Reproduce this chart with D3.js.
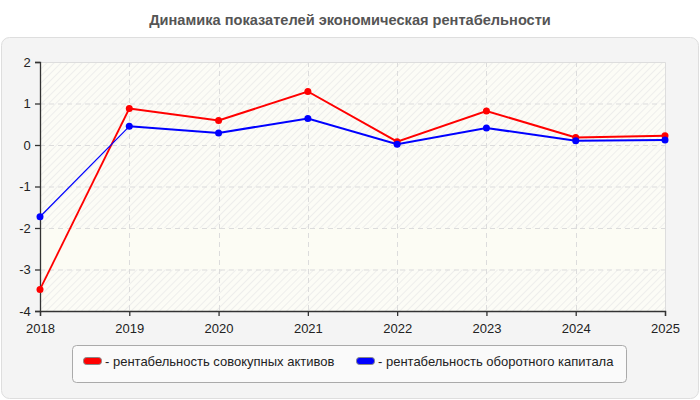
<!DOCTYPE html>
<html>
<head>
<meta charset="utf-8">
<script src="https://cdn.jsdelivr.net/npm/d3@7"></script>
<style>
  body { margin: 0; background: #fff; }
  svg { display: block; font-family: "Liberation Sans", Arial, sans-serif; }
</style>
</head>
<body>
<svg id="chart" width="700" height="400"></svg>
<script>
// data
const years = [2018, 2019, 2020, 2021, 2022, 2023, 2024, 2025];
const assetsReturn = [-3.48, 0.88, 0.59, 1.29, 0.08, 0.82, 0.18, 0.22];
const capitalReturn = [-1.73, 0.45, 0.29, 0.64, 0.02, 0.41, 0.10, 0.12];
const yTicks = [-4, -3, -2, -1, 0, 1, 2];
const seriesNames = ['рентабельность совокупных активов', 'рентабельность оборотного капитала'];
const seriesColors = ['#ff0000', '#0000ff'];
const title = 'Динамика показателей экономическая рентабельности';

const svg = d3.select('#chart');
const margin = { left: 40, right: 35, top: 62, bottom: 89 };
const w = 700 - margin.left - margin.right;
const h = 400 - margin.top - margin.bottom;

// hatch pattern for plot bg
const defs = svg.append('defs');
const pat = defs.append('pattern')
  .attr('id', 'hatch')
  .attr('width', 5).attr('height', 5)
  .attr('patternUnits', 'userSpaceOnUse')
  .attr('patternTransform', 'rotate(45)');
pat.append('rect').attr('width', 5).attr('height', 5).attr('fill', '#fcfcf6');
pat.append('line').attr('x1', 0).attr('y1', 0).attr('x2', 0).attr('y2', 5)
  .attr('stroke', '#e6e6e6').attr('stroke-width', 1.2);

svg.append('text')
  .attr('x', 350).attr('y', 25)
  .attr('text-anchor', 'middle')
  .attr('font-size', 14.6).attr('font-weight', 'bold')
  .attr('fill', '#555')
  .text(title);

// outer panel
svg.append('rect')
  .attr('x', 1.5).attr('y', 37.5).attr('width', 697).attr('height', 361)
  .attr('rx', 8)
  .attr('fill', '#f4f4f4').attr('stroke', '#dedede');

const x = d3.scaleLinear().domain([2018, 2025]).range([0, w]);
const y = d3.scaleLinear().domain([-4, 2]).range([h, 0]);

const g = svg.append('g').attr('transform', `translate(${margin.left},${margin.top})`);

// bands
const bands = d3.pairs(yTicks);
g.selectAll('.band')
  .data(bands)
  .join('rect')
    .attr('x', 0)
    .attr('y', d => y(d[1]))
    .attr('width', w)
    .attr('height', d => y(d[0]) - y(d[1]))
    .attr('fill', d => d[0] === -3 ? '#fcfcf4' : 'url(#hatch)');

// grid
g.selectAll('.hgrid')
  .data(yTicks.slice(1, -1))
  .join('line')
    .attr('x1', 0).attr('x2', w)
    .attr('y1', d => y(d) + 0.5).attr('y2', d => y(d) + 0.5)
    .attr('stroke', '#dcdcdc').attr('stroke-dasharray', '5,4');
g.selectAll('.vgrid')
  .data(years.slice(1, -1))
  .join('line')
    .attr('x1', d => Math.round(x(d)) + 0.5).attr('x2', d => Math.round(x(d)) + 0.5)
    .attr('y1', 0).attr('y2', h)
    .attr('stroke', '#dcdcdc').attr('stroke-dasharray', '5,4');

// top / right border of plot
g.append('path')
  .attr('d', `M0,0.5H${w + 0.5}V${h}`)
  .attr('fill', 'none').attr('stroke', '#dddddd');

// axes
const xAxis = d3.axisBottom(x).tickValues(years).tickFormat(d3.format('d')).tickSizeOuter(0).tickSize(5);
const yAxis = d3.axisLeft(y).tickValues(yTicks).tickSizeOuter(0).tickSize(5);

const gx = g.append('g').attr('transform', `translate(0,${h})`).call(xAxis);
const gy = g.append('g').call(yAxis);
[gx, gy].forEach(a => {
  a.selectAll('.domain, line').attr('stroke', '#333').attr('stroke-width', 1.3);
  a.selectAll('text').attr('font-size', 13).attr('fill', '#222').attr('font-family', '"Liberation Sans", Arial, sans-serif');
});
gx.selectAll('text').attr('dy', '1.05em');
gy.selectAll('text').attr('dx', '-0.1em').text(d => d < 0 ? '-' + Math.abs(d) : d);

// lines
const series = [assetsReturn, capitalReturn];
const line = d3.line().x((d, i) => x(years[i])).y(d => y(d));

series.forEach((vals, s) => {
  // first segment is drawn thinner in the original
  g.append('path')
    .datum(vals.slice(0, 2))
    .attr('d', line)
    .attr('fill', 'none')
    .attr('stroke', seriesColors[s])
    .attr('stroke-width', s === 1 ? 1.2 : 1.8);
  g.append('path')
    .datum(vals)
    .attr('d', d3.line().x((d, i) => x(years[i])).y(d => y(d)).defined((d, i) => i >= 1))
    .attr('fill', 'none')
    .attr('stroke', seriesColors[s])
    .attr('stroke-width', 2);
  g.selectAll('.pt' + s)
    .data(vals)
    .join('circle')
      .attr('cx', (d, i) => x(years[i]))
      .attr('cy', d => y(d))
      .attr('r', 3.5)
      .attr('fill', seriesColors[s]);
});

// legend
const lg = svg.append('g');
lg.append('rect')
  .attr('x', 72.5).attr('y', 345.5).attr('width', 554).attr('height', 37)
  .attr('rx', 4)
  .attr('fill', '#fafafa').attr('stroke', '#aaaaaa');
const legendX = [83, 356];
seriesNames.forEach((name, i) => {
  lg.append('rect')
    .attr('x', legendX[i] + 0.5).attr('y', 357.5).attr('width', 18).attr('height', 7)
    .attr('rx', 3)
    .attr('fill', seriesColors[i]).attr('stroke', '#888');
  lg.append('text')
    .attr('x', legendX[i] + 22).attr('y', 366)
    .attr('font-size', 13).attr('fill', '#222')
    .text('- ' + name);
});
</script>
</body>
</html>
